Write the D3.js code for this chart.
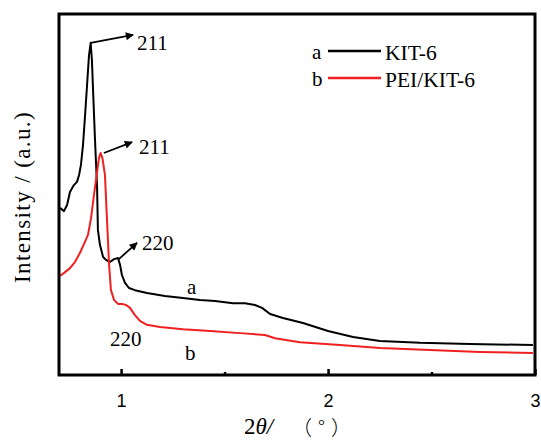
<!DOCTYPE html>
<html><head><meta charset="utf-8">
<script src="https://cdn.jsdelivr.net/npm/d3@7/dist/d3.min.js"></script>
<style>body{margin:0;background:#fff}svg{display:block}</style>
</head><body>
<script>
// ---- data ----
const kitX = [0.705,0.724,0.739,0.753,0.772,0.787,0.797,0.806,0.816,0.826,0.835,0.845,0.853,0.859,0.864,0.874,0.884,0.888,0.898,0.913,0.927,0.946,0.966,0.985,0.995,1.004,1.019,1.038,1.067,1.125,1.212,1.299,1.381,1.454,1.541,1.599,1.647,1.681,1.720,1.782,1.879,2.000,2.121,2.251,2.444,2.686,2.990];
const kitY = [46.3,45.4,47.1,50.7,52.6,53.5,55.4,58.2,63.7,72.0,79.8,88.6,92.0,87.3,79.8,65.1,52.1,40.2,36.0,32.7,31.9,31.3,32.1,32.4,30.5,27.7,25.5,24.1,23.5,22.7,21.9,21.3,20.8,20.5,19.9,19.9,19.4,18.6,16.9,15.8,14.4,12.2,10.5,9.4,8.9,8.6,8.3];
const peiX = [0.705,0.729,0.753,0.777,0.801,0.821,0.840,0.855,0.869,0.884,0.893,0.901,0.910,0.922,0.932,0.942,0.951,0.966,0.985,1.004,1.024,1.043,1.067,1.091,1.125,1.188,1.299,1.430,1.575,1.695,1.744,1.864,2.058,2.251,2.493,2.734,2.990];
const peiY = [27.4,28.5,29.6,31.3,33.8,36.3,38.8,43.5,49.9,56.2,60.1,61.5,60.1,55.4,42.9,30.5,23.5,20.8,19.7,19.7,19.4,18.6,16.6,15.0,13.9,13.3,12.7,12.2,11.6,11.1,10.2,9.1,8.3,7.5,6.9,6.4,6.1];
const xTicks = [1, 2, 3];
const xMinorTicks = [1.5, 2.5];
const seriesNames = ["KIT-6", "PEI/KIT-6"];
const seriesTags = ["a", "b"];
// arrows: [fromX, fromY, toX, toY, label, labelX, labelY]
const arrowNotes = [
  [0.853, 92.0, 1.058, 94.2, "211", 1.077, 92.2],
  [0.917, 61.5, 1.053, 64.5, "211", 1.087, 63.2],
  [0.985, 31.9, 1.077, 36.6, "220", 1.101, 36.6]
];
// plain text notes: [text, x, y]
const textNotes = [
  ["220", 0.946, 10.2],
  ["a", 1.318, 24.4],
  ["b", 1.309, 6.1]
];

// ---- layout ----
const W = 541, H = 443;
const L = 59, R = 535, T = 14, B = 375;
const colors = ["#000000", "#f02020"];
const SERIF = "'Liberation Serif', 'Times New Roman', serif";
const SANS = "'Liberation Sans', Arial, sans-serif";

const svg = d3.select("body").append("svg").attr("width", W).attr("height", H);
const x = d3.scaleLinear().domain([0.7, 3]).range([L, R]);
const y = d3.scaleLinear().domain([0, 100]).range([B, T]);

const defs = svg.append("defs");
defs.append("marker").attr("id", "ah").attr("viewBox", "0 0 10 10")
  .attr("refX", 9).attr("refY", 5).attr("markerWidth", 10).attr("markerHeight", 8)
  .attr("markerUnits", "userSpaceOnUse").attr("orient", "auto")
  .append("path").attr("d", "M0,0 L10,5 L0,10 Z").attr("fill", "#000");

const line = d3.line().x(d => x(d[0])).y(d => y(d[1]));
const series = [d3.zip(kitX, kitY), d3.zip(peiX, peiY)];

series.forEach((s, i) => {
  svg.append("path").datum(s).attr("d", line)
    .attr("fill", "none").attr("stroke", colors[i]).attr("stroke-width", 2)
    .attr("stroke-linejoin", "round");
});

// axis ticks (inward)
const xa = svg.append("g").attr("transform", `translate(0,${B})`)
  .call(d3.axisBottom(x).tickValues(xTicks).tickSize(-6).tickPadding(19).tickFormat(d3.format("d")));
xa.select(".domain").remove();
xa.selectAll(".tick line").attr("stroke", "#000").attr("stroke-width", 2.5);
xa.selectAll(".tick text").style("font-family", SANS).style("font-size", "18px").attr("fill", "#000");
const xm = svg.append("g").attr("transform", `translate(0,${B})`)
  .call(d3.axisBottom(x).tickValues(xMinorTicks).tickSize(-3).tickFormat(""));
xm.select(".domain").remove();
xm.selectAll(".tick line").attr("stroke", "#000").attr("stroke-width", 2.5);

// frame
svg.append("rect").attr("x", L).attr("y", T).attr("width", R - L).attr("height", B - T)
  .attr("fill", "none").attr("stroke", "#000").attr("stroke-width", 3);

// arrows
arrowNotes.forEach(a => {
  svg.append("line").attr("x1", x(a[0])).attr("y1", y(a[1])).attr("x2", x(a[2])).attr("y2", y(a[3]))
    .attr("stroke", "#000").attr("stroke-width", 1.8).attr("marker-end", "url(#ah)");
  svg.append("text").attr("x", x(a[5])).attr("y", y(a[6])).attr("dy", "0.35em")
    .style("font-family", SERIF).style("font-size", "21px").text(a[4]);
});
textNotes.forEach(t => {
  svg.append("text").attr("x", x(t[1])).attr("y", y(t[2])).attr("dy", "0.35em")
    .style("font-family", SERIF).style("font-size", "21px").text(t[0]);
});

// legend
seriesNames.forEach((n, i) => {
  const ly = 52 + i * 27;
  svg.append("text").attr("x", 312).attr("y", ly).attr("dy", "0.35em")
    .style("font-family", SERIF).style("font-size", "21px").text(seriesTags[i]);
  svg.append("line").attr("x1", 328).attr("x2", 381).attr("y1", ly - 1).attr("y2", ly - 1)
    .attr("stroke", colors[i]).attr("stroke-width", 2.5);
  svg.append("text").attr("x", 385).attr("y", ly).attr("dy", "0.35em")
    .style("font-family", SERIF).style("font-size", "21.5px").text(n);
});

// axis labels
const xl = svg.append("text").attr("x", 244).attr("y", 434)
  .style("font-family", SERIF).style("font-size", "23px");
xl.append("tspan").text("2");
xl.append("tspan").style("font-style", "italic").text("θ");
xl.append("tspan").style("font-style", "italic").text("/");
xl.append("tspan").attr("x", 292).attr("dy", 1).style("font-family", "'Noto Sans CJK SC'").style("font-weight", 300)
  .style("font-size", "20px").style("letter-spacing", "6px").text("（°）");

svg.append("text").attr("transform", "translate(30,197) rotate(-90)")
  .attr("text-anchor", "middle").style("font-family", SERIF).style("font-size", "23px")
  .style("letter-spacing", "1.4px")
  .text("Intensity / (a.u.)");
</script>
</body></html>
